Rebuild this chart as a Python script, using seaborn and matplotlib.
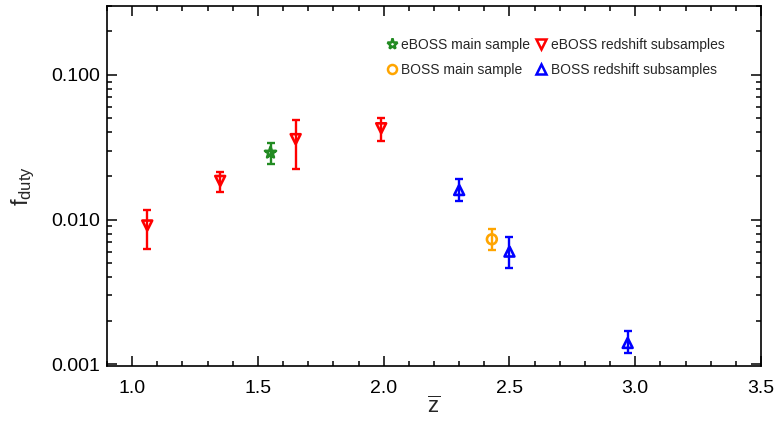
import matplotlib
matplotlib.use("Agg")
import matplotlib.pyplot as plt
from matplotlib.lines import Line2D
from matplotlib.ticker import FixedLocator, FuncFormatter, LogLocator, NullFormatter, MultipleLocator
import seaborn as sns
import pandas as pd
import numpy as np

# ---- data ----
eboss_main_z = [1.55]
eboss_main_f = [0.0290]
eboss_main_lo = [0.0242]
eboss_main_hi = [0.0339]

eboss_sub_z = [1.06, 1.35, 1.65, 1.99]
eboss_sub_f = [0.0091, 0.0185, 0.0360, 0.0428]
eboss_sub_lo = [0.0063, 0.0154, 0.0222, 0.0347]
eboss_sub_hi = [0.0117, 0.0212, 0.0490, 0.0500]

boss_main_z = [2.43]
boss_main_f = [0.0073]
boss_main_lo = [0.0062]
boss_main_hi = [0.0086]

boss_sub_z = [2.30, 2.50, 2.97]
boss_sub_f = [0.0160, 0.0060, 0.0014]
boss_sub_lo = [0.0135, 0.0046, 0.0012]
boss_sub_hi = [0.0192, 0.0076, 0.0017]

labels = ["eBOSS main sample", "BOSS main sample",
          "eBOSS redshift subsamples", "BOSS redshift subsamples"]
colors = ["#228B22", "#FFA500", "#FF0000", "#0000FF"]
markers = ["*", "o", "v", "^"]

groups = [
    (eboss_main_z, eboss_main_f, eboss_main_lo, eboss_main_hi),
    (boss_main_z, boss_main_f, boss_main_lo, boss_main_hi),
    (eboss_sub_z, eboss_sub_f, eboss_sub_lo, eboss_sub_hi),
    (boss_sub_z, boss_sub_f, boss_sub_lo, boss_sub_hi),
]

sns.set_theme(style="ticks")
plt.rcParams['font.family'] = ['Liberation Sans', 'DejaVu Sans']
plt.rcParams['mathtext.fontset'] = 'custom'
plt.rcParams['mathtext.rm'] = 'Liberation Sans'
plt.rcParams['mathtext.it'] = 'Liberation Sans'

fig = plt.figure(figsize=(7.79, 4.21), dpi=100)
ax = fig.add_axes([107/779, 1-366/421, (761-107)/779, (366-6)/421])

for (z, f, lo, hi), lab, c, m in zip(groups, labels, colors, markers):
    f = np.array(f); lo = np.array(lo); hi = np.array(hi)
    ax.errorbar(z, f, yerr=[f - lo, hi - f], fmt='none', ecolor=c,
                elinewidth=1.7, capsize=3, capthick=1.7, zorder=2)
    df = pd.DataFrame({"z": z, "f": f})
    sns.scatterplot(data=df, x="z", y="f", marker=m, s=50 if m != "*" else 70,
                    color=c, ax=ax, zorder=3, legend=False)
    coll = ax.collections[-1]
    coll.set_facecolor("none")
    coll.set_edgecolor(c)
    coll.set_linewidth(1.9)

ax.set_yscale("log")
ax.set_xlim(0.9, 3.5)
ax.set_ylim(0.00097, 0.3)

ax.xaxis.set_major_locator(MultipleLocator(0.5))
ax.xaxis.set_minor_locator(MultipleLocator(0.1))
ax.xaxis.set_major_formatter(FuncFormatter(lambda v, p: f"{v:.1f}"))
ax.yaxis.set_major_locator(FixedLocator([0.001, 0.01, 0.1]))
ax.yaxis.set_major_formatter(FuncFormatter(lambda v, p: f"{v:.3f}"))
ax.yaxis.set_minor_locator(LogLocator(base=10, subs=np.arange(2, 10)))
ax.yaxis.set_minor_formatter(NullFormatter())

ax.tick_params(which="both", direction="in", top=True, right=True, colors="black",
               labelsize=14, width=1.1)
ax.tick_params(which="major", length=7)
ax.tick_params(which="minor", length=3.5)
ax.tick_params(axis="x", which="major", pad=10)
ax.tick_params(axis="y", which="major", pad=5)
for s in ax.spines.values():
    s.set_linewidth(1.2)
    s.set_color("black")

ax.set_xlabel(r"$\overline{\mathrm{z}}$", fontsize=16, labelpad=0)
ax.set_ylabel(r"$\mathrm{f}_{\mathrm{duty}}$", fontsize=17, labelpad=10)

handles = [Line2D([], [], linestyle="none", marker=m, markerfacecolor="none",
                  markeredgecolor=c, markeredgewidth=1.8,
                  markersize=8 if m == "*" else 6.5)
           for m, c in zip(markers, colors)]
leg = ax.legend(handles, labels, ncol=2, frameon=False, fontsize=10,
                loc="upper right", bbox_to_anchor=(0.964, 0.945),
                handlelength=0.8, handletextpad=0.3, columnspacing=0.4,
                labelspacing=0.75)

fig.savefig("out.png", dpi=100)
